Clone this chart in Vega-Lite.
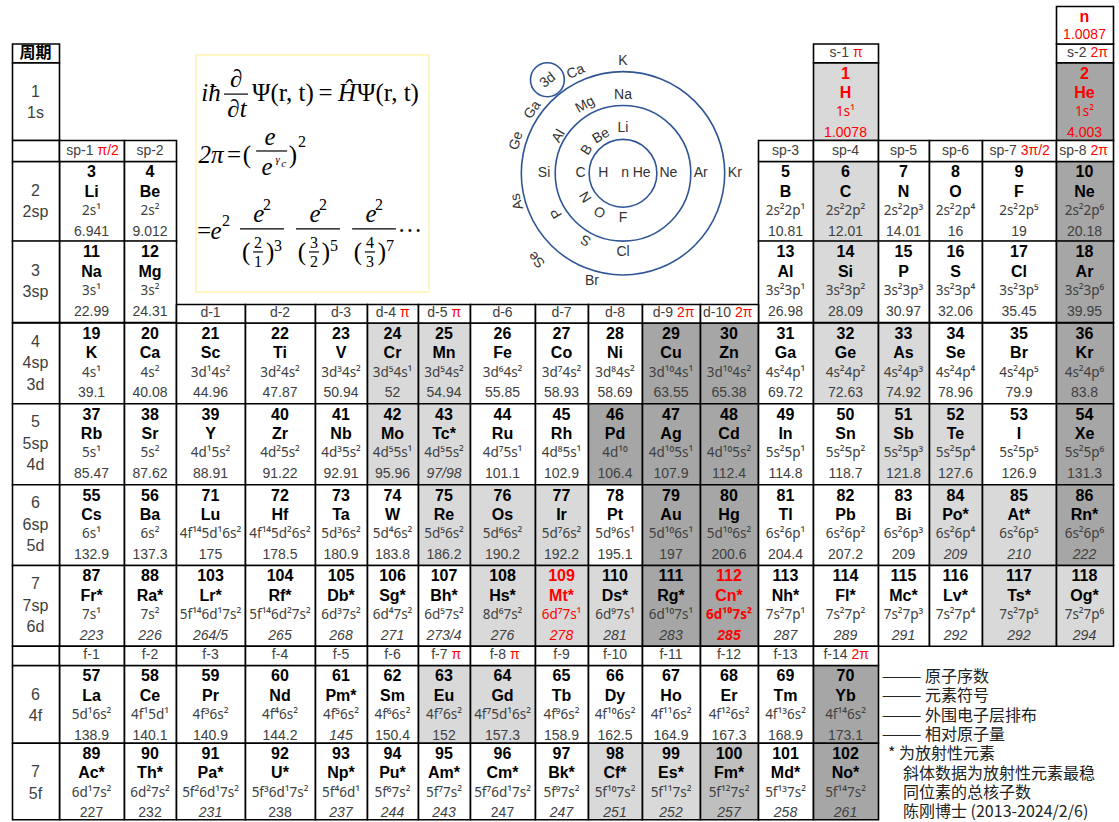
{
"$schema":"https://vega.github.io/schema/vega-lite/v6.json",
"width":1119,"height":822,"autosize":"none","padding":0,"background":"#ffffff",
"config":{"view":{"stroke":null},"text":{"font":"Liberation Sans"}},
"datasets":{
"elements":[
{"c":14,"r":2,"z":"1","s":"H","e":"1s¹","m":"1.0078","f":"L","red":true},
{"c":18,"r":2,"z":"2","s":"He","e":"1s²","m":"4.003","f":"D","red":true},
{"c":1,"r":4,"z":"3","s":"Li","e":"2s¹","m":"6.941","f":"W"},
{"c":2,"r":4,"z":"4","s":"Be","e":"2s²","m":"9.012","f":"W"},
{"c":13,"r":4,"z":"5","s":"B","e":"2s²2p¹","m":"10.81","f":"W"},
{"c":14,"r":4,"z":"6","s":"C","e":"2s²2p²","m":"12.01","f":"L"},
{"c":15,"r":4,"z":"7","s":"N","e":"2s²2p³","m":"14.01","f":"W"},
{"c":16,"r":4,"z":"8","s":"O","e":"2s²2p⁴","m":"16","f":"W"},
{"c":17,"r":4,"z":"9","s":"F","e":"2s²2p⁵","m":"19","f":"W"},
{"c":18,"r":4,"z":"10","s":"Ne","e":"2s²2p⁶","m":"20.18","f":"D"},
{"c":1,"r":5,"z":"11","s":"Na","e":"3s¹","m":"22.99","f":"W"},
{"c":2,"r":5,"z":"12","s":"Mg","e":"3s²","m":"24.31","f":"W"},
{"c":13,"r":5,"z":"13","s":"Al","e":"3s²3p¹","m":"26.98","f":"W"},
{"c":14,"r":5,"z":"14","s":"Si","e":"3s²3p²","m":"28.09","f":"L"},
{"c":15,"r":5,"z":"15","s":"P","e":"3s²3p³","m":"30.97","f":"W"},
{"c":16,"r":5,"z":"16","s":"S","e":"3s²3p⁴","m":"32.06","f":"W"},
{"c":17,"r":5,"z":"17","s":"Cl","e":"3s²3p⁵","m":"35.45","f":"W"},
{"c":18,"r":5,"z":"18","s":"Ar","e":"3s²3p⁶","m":"39.95","f":"D"},
{"c":1,"r":7,"z":"19","s":"K","e":"4s¹","m":"39.1","f":"W"},
{"c":2,"r":7,"z":"20","s":"Ca","e":"4s²","m":"40.08","f":"W"},
{"c":3,"r":7,"z":"21","s":"Sc","e":"3d¹4s²","m":"44.96","f":"W"},
{"c":4,"r":7,"z":"22","s":"Ti","e":"3d²4s²","m":"47.87","f":"W"},
{"c":5,"r":7,"z":"23","s":"V","e":"3d³4s²","m":"50.94","f":"W"},
{"c":6,"r":7,"z":"24","s":"Cr","e":"3d⁵4s¹","m":"52","f":"L"},
{"c":7,"r":7,"z":"25","s":"Mn","e":"3d⁵4s²","m":"54.94","f":"L"},
{"c":8,"r":7,"z":"26","s":"Fe","e":"3d⁶4s²","m":"55.85","f":"W"},
{"c":9,"r":7,"z":"27","s":"Co","e":"3d⁷4s²","m":"58.93","f":"W"},
{"c":10,"r":7,"z":"28","s":"Ni","e":"3d⁸4s²","m":"58.69","f":"W"},
{"c":11,"r":7,"z":"29","s":"Cu","e":"3d¹⁰4s¹","m":"63.55","f":"D"},
{"c":12,"r":7,"z":"30","s":"Zn","e":"3d¹⁰4s²","m":"65.38","f":"D"},
{"c":13,"r":7,"z":"31","s":"Ga","e":"4s²4p¹","m":"69.72","f":"W"},
{"c":14,"r":7,"z":"32","s":"Ge","e":"4s²4p²","m":"72.63","f":"L"},
{"c":15,"r":7,"z":"33","s":"As","e":"4s²4p³","m":"74.92","f":"L"},
{"c":16,"r":7,"z":"34","s":"Se","e":"4s²4p⁴","m":"78.96","f":"W"},
{"c":17,"r":7,"z":"35","s":"Br","e":"4s²4p⁵","m":"79.9","f":"W"},
{"c":18,"r":7,"z":"36","s":"Kr","e":"4s²4p⁶","m":"83.8","f":"D"},
{"c":1,"r":8,"z":"37","s":"Rb","e":"5s¹","m":"85.47","f":"W"},
{"c":2,"r":8,"z":"38","s":"Sr","e":"5s²","m":"87.62","f":"W"},
{"c":3,"r":8,"z":"39","s":"Y","e":"4d¹5s²","m":"88.91","f":"W"},
{"c":4,"r":8,"z":"40","s":"Zr","e":"4d²5s²","m":"91.22","f":"W"},
{"c":5,"r":8,"z":"41","s":"Nb","e":"4d³5s²","m":"92.91","f":"W"},
{"c":6,"r":8,"z":"42","s":"Mo","e":"4d⁵5s¹","m":"95.96","f":"L"},
{"c":7,"r":8,"z":"43","s":"Tc*","e":"4d⁵5s²","m":"97/98","f":"L","it":true},
{"c":8,"r":8,"z":"44","s":"Ru","e":"4d⁷5s¹","m":"101.1","f":"W"},
{"c":9,"r":8,"z":"45","s":"Rh","e":"4d⁸5s¹","m":"102.9","f":"W"},
{"c":10,"r":8,"z":"46","s":"Pd","e":"4d¹⁰","m":"106.4","f":"D"},
{"c":11,"r":8,"z":"47","s":"Ag","e":"4d¹⁰5s¹","m":"107.9","f":"D"},
{"c":12,"r":8,"z":"48","s":"Cd","e":"4d¹⁰5s²","m":"112.4","f":"D"},
{"c":13,"r":8,"z":"49","s":"In","e":"5s²5p¹","m":"114.8","f":"W"},
{"c":14,"r":8,"z":"50","s":"Sn","e":"5s²5p²","m":"118.7","f":"W"},
{"c":15,"r":8,"z":"51","s":"Sb","e":"5s²5p³","m":"121.8","f":"L"},
{"c":16,"r":8,"z":"52","s":"Te","e":"5s²5p⁴","m":"127.6","f":"L"},
{"c":17,"r":8,"z":"53","s":"I","e":"5s²5p⁵","m":"126.9","f":"W"},
{"c":18,"r":8,"z":"54","s":"Xe","e":"5s²5p⁶","m":"131.3","f":"D"},
{"c":1,"r":9,"z":"55","s":"Cs","e":"6s¹","m":"132.9","f":"W"},
{"c":2,"r":9,"z":"56","s":"Ba","e":"6s²","m":"137.3","f":"W"},
{"c":3,"r":9,"z":"71","s":"Lu","e":"4f¹⁴5d¹6s²","m":"175","f":"W"},
{"c":4,"r":9,"z":"72","s":"Hf","e":"4f¹⁴5d²6s²","m":"178.5","f":"W"},
{"c":5,"r":9,"z":"73","s":"Ta","e":"5d³6s²","m":"180.9","f":"W"},
{"c":6,"r":9,"z":"74","s":"W","e":"5d⁴6s²","m":"183.8","f":"W"},
{"c":7,"r":9,"z":"75","s":"Re","e":"5d⁵6s²","m":"186.2","f":"L"},
{"c":8,"r":9,"z":"76","s":"Os","e":"5d⁶6s²","m":"190.2","f":"L"},
{"c":9,"r":9,"z":"77","s":"Ir","e":"5d⁷6s²","m":"192.2","f":"L"},
{"c":10,"r":9,"z":"78","s":"Pt","e":"5d⁹6s¹","m":"195.1","f":"W"},
{"c":11,"r":9,"z":"79","s":"Au","e":"5d¹⁰6s¹","m":"197","f":"D"},
{"c":12,"r":9,"z":"80","s":"Hg","e":"5d¹⁰6s²","m":"200.6","f":"D"},
{"c":13,"r":9,"z":"81","s":"Tl","e":"6s²6p¹","m":"204.4","f":"W"},
{"c":14,"r":9,"z":"82","s":"Pb","e":"6s²6p²","m":"207.2","f":"W"},
{"c":15,"r":9,"z":"83","s":"Bi","e":"6s²6p³","m":"209","f":"W"},
{"c":16,"r":9,"z":"84","s":"Po*","e":"6s²6p⁴","m":"209","f":"L","it":true},
{"c":17,"r":9,"z":"85","s":"At*","e":"6s²6p⁵","m":"210","f":"L","it":true},
{"c":18,"r":9,"z":"86","s":"Rn*","e":"6s²6p⁶","m":"222","f":"D","it":true},
{"c":1,"r":10,"z":"87","s":"Fr*","e":"7s¹","m":"223","f":"W","it":true},
{"c":2,"r":10,"z":"88","s":"Ra*","e":"7s²","m":"226","f":"W","it":true},
{"c":3,"r":10,"z":"103","s":"Lr*","e":"5f¹⁴6d¹7s²","m":"264/5","f":"W","it":true},
{"c":4,"r":10,"z":"104","s":"Rf*","e":"5f¹⁴6d²7s²","m":"265","f":"W","it":true},
{"c":5,"r":10,"z":"105","s":"Db*","e":"6d³7s²","m":"268","f":"W","it":true},
{"c":6,"r":10,"z":"106","s":"Sg*","e":"6d⁴7s²","m":"271","f":"W","it":true},
{"c":7,"r":10,"z":"107","s":"Bh*","e":"6d⁵7s²","m":"273/4","f":"W","it":true},
{"c":8,"r":10,"z":"108","s":"Hs*","e":"8d⁶7s²","m":"276","f":"L","it":true},
{"c":9,"r":10,"z":"109","s":"Mt*","e":"6d⁷7s¹","m":"278","f":"L","it":true,"red":true},
{"c":10,"r":10,"z":"110","s":"Ds*","e":"6d⁹7s¹","m":"281","f":"L","it":true},
{"c":11,"r":10,"z":"111","s":"Rg*","e":"6d¹⁰7s¹","m":"283","f":"D","it":true},
{"c":12,"r":10,"z":"112","s":"Cn*","e":"6d¹⁰7s²","m":"285","f":"D","it":true,"red":true,"em":true},
{"c":13,"r":10,"z":"113","s":"Nh*","e":"7s²7p¹","m":"287","f":"W","it":true},
{"c":14,"r":10,"z":"114","s":"Fl*","e":"7s²7p²","m":"289","f":"W","it":true},
{"c":15,"r":10,"z":"115","s":"Mc*","e":"7s²7p³","m":"291","f":"W","it":true},
{"c":16,"r":10,"z":"116","s":"Lv*","e":"7s²7p⁴","m":"292","f":"W","it":true},
{"c":17,"r":10,"z":"117","s":"Ts*","e":"7s²7p⁵","m":"292","f":"L","it":true},
{"c":18,"r":10,"z":"118","s":"Og*","e":"7s²7p⁶","m":"294","f":"L","it":true},
{"c":1,"r":12,"z":"57","s":"La","e":"5d¹6s²","m":"138.9","f":"W"},
{"c":2,"r":12,"z":"58","s":"Ce","e":"4f¹5d¹","m":"140.1","f":"W"},
{"c":3,"r":12,"z":"59","s":"Pr","e":"4f³6s²","m":"140.9","f":"W"},
{"c":4,"r":12,"z":"60","s":"Nd","e":"4f⁴6s²","m":"144.2","f":"W"},
{"c":5,"r":12,"z":"61","s":"Pm*","e":"4f⁵6s²","m":"145","f":"W","it":true},
{"c":6,"r":12,"z":"62","s":"Sm","e":"4f⁶6s²","m":"150.4","f":"W"},
{"c":7,"r":12,"z":"63","s":"Eu","e":"4f⁷6s²","m":"152","f":"L"},
{"c":8,"r":12,"z":"64","s":"Gd","e":"4f⁷5d¹6s²","m":"157.3","f":"L"},
{"c":9,"r":12,"z":"65","s":"Tb","e":"4f⁹6s²","m":"158.9","f":"W"},
{"c":10,"r":12,"z":"66","s":"Dy","e":"4f¹⁰6s²","m":"162.5","f":"W"},
{"c":11,"r":12,"z":"67","s":"Ho","e":"4f¹¹6s²","m":"164.9","f":"W"},
{"c":12,"r":12,"z":"68","s":"Er","e":"4f¹²6s²","m":"167.3","f":"W"},
{"c":13,"r":12,"z":"69","s":"Tm","e":"4f¹³6s²","m":"168.9","f":"W"},
{"c":14,"r":12,"z":"70","s":"Yb","e":"4f¹⁴6s²","m":"173.1","f":"D"},
{"c":1,"r":13,"z":"89","s":"Ac*","e":"6d¹7s²","m":"227","f":"W"},
{"c":2,"r":13,"z":"90","s":"Th*","e":"6d²7s²","m":"232","f":"W"},
{"c":3,"r":13,"z":"91","s":"Pa*","e":"5f²6d¹7s²","m":"231","f":"W","it":true},
{"c":4,"r":13,"z":"92","s":"U*","e":"5f³6d¹7s²","m":"238","f":"W"},
{"c":5,"r":13,"z":"93","s":"Np*","e":"5f⁴6d¹","m":"237","f":"W","it":true},
{"c":6,"r":13,"z":"94","s":"Pu*","e":"5f⁶7s²","m":"244","f":"W","it":true},
{"c":7,"r":13,"z":"95","s":"Am*","e":"5f⁷7s²","m":"243","f":"W","it":true},
{"c":8,"r":13,"z":"96","s":"Cm*","e":"5f⁷6d¹7s²","m":"247","f":"W"},
{"c":9,"r":13,"z":"97","s":"Bk*","e":"5f⁹7s²","m":"247","f":"W","it":true},
{"c":10,"r":13,"z":"98","s":"Cf*","e":"5f¹⁰7s²","m":"251","f":"L","it":true},
{"c":11,"r":13,"z":"99","s":"Es*","e":"5f¹¹7s²","m":"252","f":"L","it":true},
{"c":12,"r":13,"z":"100","s":"Fm*","e":"5f¹²7s²","m":"257","f":"M","it":true},
{"c":13,"r":13,"z":"101","s":"Md*","e":"5f¹³7s²","m":"258","f":"W","it":true},
{"c":14,"r":13,"z":"102","s":"No*","e":"5f¹⁴7s²","m":"261","f":"D","it":true}
],
"periods":[
{"c":0,"r":2,"lab":["1","1s"]},{"c":0,"r":4,"lab":["2","2sp"]},{"c":0,"r":5,"lab":["3","3sp"]},
{"c":0,"r":7,"lab":["4","4sp","3d"]},{"c":0,"r":8,"lab":["5","5sp","4d"]},{"c":0,"r":9,"lab":["6","6sp","5d"]},
{"c":0,"r":10,"lab":["7","7sp","6d"]},{"c":0,"r":12,"lab":["6","4f"]},{"c":0,"r":13,"lab":["7","5f"]}
],
"headers":[
{"c":14,"r":1,"a":"s-1","b":"π"},{"c":18,"r":1,"a":"s-2","b":"2π"},
{"c":0,"r":3,"a":"","b":""},{"c":1,"r":3,"a":"sp-1","b":"π/2"},{"c":2,"r":3,"a":"sp-2","b":""},
{"c":13,"r":3,"a":"sp-3","b":""},{"c":14,"r":3,"a":"sp-4","b":""},{"c":15,"r":3,"a":"sp-5","b":""},
{"c":16,"r":3,"a":"sp-6","b":""},{"c":17,"r":3,"a":"sp-7","b":"3π/2"},{"c":18,"r":3,"a":"sp-8","b":"2π"},
{"c":3,"r":6,"a":"d-1","b":""},{"c":4,"r":6,"a":"d-2","b":""},{"c":5,"r":6,"a":"d-3","b":""},
{"c":6,"r":6,"a":"d-4","b":"π"},{"c":7,"r":6,"a":"d-5","b":"π"},{"c":8,"r":6,"a":"d-6","b":""},
{"c":9,"r":6,"a":"d-7","b":""},{"c":10,"r":6,"a":"d-8","b":""},{"c":11,"r":6,"a":"d-9","b":"2π"},
{"c":12,"r":6,"a":"d-10","b":"2π"},
{"c":0,"r":11,"a":"","b":""},{"c":1,"r":11,"a":"f-1","b":""},{"c":2,"r":11,"a":"f-2","b":""},
{"c":3,"r":11,"a":"f-3","b":""},{"c":4,"r":11,"a":"f-4","b":""},{"c":5,"r":11,"a":"f-5","b":""},
{"c":6,"r":11,"a":"f-6","b":""},{"c":7,"r":11,"a":"f-7","b":"π"},{"c":8,"r":11,"a":"f-8","b":"π"},
{"c":9,"r":11,"a":"f-9","b":""},{"c":10,"r":11,"a":"f-10","b":""},{"c":11,"r":11,"a":"f-11","b":""},
{"c":12,"r":11,"a":"f-12","b":""},{"c":13,"r":11,"a":"f-13","b":""},{"c":14,"r":11,"a":"f-14","b":"2π"}
],
"corner":[{"c":0,"r":1,"t":"周期"}],
"neutron":[{"c":18,"r":0,"s":"n","m":"1.0087"}],
"notes1":[{"lines":["——— 原子序数","——— 元素符号","——— 外围电子层排布","——— 相对原子量"]}],
"notes2":[{"lines":["* 为放射性元素"]}],
"notes3":[{"lines":["斜体数据为放射性元素最稳","同位素的总核子数","陈刚博士 (2013-2024/2/6)"]}],
"rings":[{"cx":0,"cy":0,"rad":1},{"cx":0,"cy":0,"rad":2},{"cx":0,"cy":0,"rad":3},{"cx":-2.23,"cy":2.76,"rad":0.5}],
"ringUpright":[
{"t":"K","th":0,"rr":3.32},{"t":"Na","th":0,"rr":2.31},{"t":"Li","th":0,"rr":1.33},
{"t":"Si","th":-90,"rr":2.33},{"t":"C","th":-90,"rr":1.25},{"t":"H","th":-90,"rr":0.58},
{"t":"n","th":90,"rr":0.06},{"t":"He","th":90,"rr":0.55},{"t":"Ne","th":90,"rr":1.34},
{"t":"Ar","th":90,"rr":2.29},{"t":"Kr","th":90,"rr":3.3},{"t":"F","th":180,"rr":1.33},
{"t":"Cl","th":180,"rr":2.31},{"t":"Br","th":-164,"rr":3.32}
],
"ringAlong":[
{"t":"Ca","th":-25,"rr":3.3},{"t":"3d","th":-39,"rr":3.53},{"t":"Ga","th":-55,"rr":3.26},
{"t":"Ge","th":-73,"rr":3.29},{"t":"As","th":-105,"rr":3.23},{"t":"Se","th":-135,"rr":3.59},
{"t":"Mg","th":-29,"rr":2.31},{"t":"Al","th":-60,"rr":2.19},{"t":"P","th":-121,"rr":2.28},
{"t":"S","th":-151,"rr":2.25},{"t":"Be","th":-30.5,"rr":1.28},{"t":"B","th":-57,"rr":1.27},
{"t":"N","th":-122,"rr":1.29},{"t":"O","th":-149,"rr":1.32}
],
"eqBox":[{}],
"eqItalic":[
{"t":"iħ","x":6.4,"y":16.0},{"t":"∂","x":17.2,"y":10.1},{"t":"∂t","x":17.6,"y":22.8},
{"t":"Ĥ","x":64.8,"y":16.0},{"t":"2π","x":6.4,"y":42.2},{"t":"e","x":31.8,"y":34.6},
{"t":"e","x":30.5,"y":47.3},{"t":"e","x":8.6,"y":74.3},{"t":"e","x":27.0,"y":67.1},
{"t":"e","x":51.1,"y":67.1},{"t":"e","x":75.1,"y":67.1}
],
"eqUpright":[
{"t":"Ψ(r, t)","x":37.3,"y":16.0},{"t":"=","x":55.6,"y":16.0},{"t":"Ψ(r, t)","x":82.4,"y":16.0},
{"t":"=","x":16.3,"y":42.2},{"t":"(","x":21.9,"y":42.2},{"t":")","x":41.6,"y":42.2},
{"t":"=","x":3.4,"y":74.3},
{"t":"(","x":21.5,"y":83.1},{"t":"(","x":45.5,"y":83.1},{"t":"(","x":69.5,"y":83.1},
{"t":")","x":31.8,"y":83.1},{"t":")","x":55.8,"y":83.1},{"t":")","x":79.8,"y":83.1},
{"t":"···","x":91.8,"y":74.3}
],
"eqSmall":[
{"t":"2","x":45.5,"y":36.7},{"t":"2","x":12.9,"y":70.0},
{"t":"2","x":30.5,"y":63.3},{"t":"2","x":54.5,"y":63.3},{"t":"2","x":78.5,"y":63.3},
{"t":"2","x":26.6,"y":79.3},{"t":"3","x":50.6,"y":79.3},{"t":"4","x":74.7,"y":79.3},
{"t":"1","x":26.6,"y":87.3},{"t":"2","x":50.6,"y":87.3},{"t":"3","x":74.7,"y":87.3},
{"t":"3","x":35.2,"y":80.6},{"t":"5","x":59.2,"y":80.6},{"t":"7","x":83.3,"y":80.6}
],
"eqTiny":[{"t":"γ","x":35.0,"y":44.3},{"t":"c","x":37.6,"y":46.0}],
"eqBars":[
{"x1":12.0,"x2":22.3,"y":16.5},{"x1":25.8,"x2":39.1,"y":40.5},
{"x1":18.9,"x2":37.8,"y":73.4},{"x1":42.9,"x2":61.8,"y":73.4},{"x1":67.0,"x2":85.8,"y":73.4},
{"x1":24.5,"x2":28.8,"y":83.1},{"x1":48.5,"x2":52.8,"y":83.1},{"x1":72.5,"x2":76.8,"y":83.1}
]
},
"layer":[
{"layer":[
{"data":{"name":"elements"},"transform":[{"filter":"datum.r != 5"}],
 "mark":{"type":"rect","stroke":"#000000","strokeWidth":1.6,"binSpacing":0},
 "encoding":{
  "x":{"field":"c","type":"quantitative","bin":{"step":1,"extent":[0,19]},"axis":null,"scale":{"domain":[0,1,2,3,4,5,6,7,8,9,10,11,12,13,14,15,16,17,18,19],"range":[12,59,124,176,245,315,367,418,470,535,588,642,700,758,813,878,929,982,1056,1113],"nice":false,"zero":false}},
  "y":{"field":"r","type":"quantitative","bin":{"step":1,"extent":[0,14]},"axis":null,"scale":{"domain":[0,1,2,3,4,5,6,7,8,9,10,11,12,13,14],"range":[6,43.5,62.3,140,161,241,304,322.5,403.3,484.3,565,645.7,665,742.7,819.3],"nice":false,"zero":false}},
  "fill":{"field":"f","type":"nominal","legend":null,"scale":{"domain":["W","L","M","D"],"range":["#ffffff","#d9d9d9","#bfbfbf","#a6a6a6"]}}}},
{"data":{"name":"elements"},"transform":[{"filter":"datum.r == 5"}],
 "mark":{"type":"rect","stroke":"#000000","strokeWidth":1.6,"binSpacing":0},
 "encoding":{
  "x":{"field":"c","type":"quantitative","bin":{"step":1,"extent":[0,19]},"axis":null},
  "y":{"datum":5,"type":"quantitative","axis":null},"y2":{"datum":7},
  "fill":{"field":"f","type":"nominal","legend":null}}},
{"data":{"name":"periods"},"transform":[{"filter":"datum.r != 5"}],
 "mark":{"type":"rect","fill":"#ffffff","stroke":"#000000","strokeWidth":1.6,"binSpacing":0},
 "encoding":{
  "x":{"field":"c","type":"quantitative","bin":{"step":1,"extent":[0,19]},"axis":null},
  "y":{"field":"r","type":"quantitative","bin":{"step":1,"extent":[0,14]},"axis":null}}},
{"data":{"name":"periods"},"transform":[{"filter":"datum.r == 5"}],
 "mark":{"type":"rect","fill":"#ffffff","stroke":"#000000","strokeWidth":1.6,"binSpacing":0},
 "encoding":{
  "x":{"field":"c","type":"quantitative","bin":{"step":1,"extent":[0,19]},"axis":null},
  "y":{"datum":5,"type":"quantitative","axis":null},"y2":{"datum":7}}},
{"data":{"name":"headers"},
 "mark":{"type":"rect","fill":"#ffffff","stroke":"#000000","strokeWidth":1.6,"binSpacing":0},
 "encoding":{
  "x":{"field":"c","type":"quantitative","bin":{"step":1,"extent":[0,19]},"axis":null},
  "y":{"field":"r","type":"quantitative","bin":{"step":1,"extent":[0,14]},"axis":null}}},
{"data":{"name":"corner"},
 "mark":{"type":"rect","fill":"#ffffff","stroke":"#000000","strokeWidth":1.6,"binSpacing":0},
 "encoding":{
  "x":{"field":"c","type":"quantitative","bin":{"step":1,"extent":[0,19]},"axis":null},
  "y":{"field":"r","type":"quantitative","bin":{"step":1,"extent":[0,14]},"axis":null}}},
{"data":{"name":"neutron"},
 "mark":{"type":"rect","fill":"#ffffff","stroke":"#000000","strokeWidth":1.6,"binSpacing":0},
 "encoding":{
  "x":{"field":"c","type":"quantitative","bin":{"step":1,"extent":[0,19]},"axis":null},
  "y":{"field":"r","type":"quantitative","bin":{"step":1,"extent":[0,14]},"axis":null}}},
{"data":{"name":"elements"},
 "mark":{"type":"text","fontSize":16,"fontWeight":"bold","baseline":"middle","dy":11.3},
 "encoding":{
  "x":{"field":"c","type":"quantitative","bin":{"step":1,"extent":[0,19]},"axis":null},
  "y":{"field":"r","type":"quantitative","bin":{"step":1,"extent":[0,14]},"bandPosition":0,"axis":null},
  "text":{"field":"z"},
  "color":{"condition":{"test":"datum.red","value":"#ff0000"},"value":"#000000"}}},
{"data":{"name":"elements"},
 "mark":{"type":"text","fontSize":16,"fontWeight":"bold","baseline":"middle","dy":30.5},
 "encoding":{
  "x":{"field":"c","type":"quantitative","bin":{"step":1,"extent":[0,19]},"axis":null},
  "y":{"field":"r","type":"quantitative","bin":{"step":1,"extent":[0,14]},"bandPosition":0,"axis":null},
  "text":{"field":"s"},
  "color":{"condition":{"test":"datum.red","value":"#ff0000"},"value":"#000000"}}},
{"data":{"name":"elements"},"transform":[{"filter":"!datum.em"}],
 "mark":{"type":"text","font":"Noto Sans","fontSize":13.5,"baseline":"middle","dy":50},
 "encoding":{
  "x":{"field":"c","type":"quantitative","bin":{"step":1,"extent":[0,19]},"axis":null},
  "y":{"field":"r","type":"quantitative","bin":{"step":1,"extent":[0,14]},"bandPosition":0,"axis":null},
  "text":{"field":"e"},
  "color":{"condition":{"test":"datum.red","value":"#ff0000"},"value":"#404040"}}},
{"data":{"name":"elements"},"transform":[{"filter":"datum.em"}],
 "mark":{"type":"text","font":"Noto Sans","fontSize":13.5,"fontWeight":"bold","baseline":"middle","dy":50,"fill":"#ff0000"},
 "encoding":{
  "x":{"field":"c","type":"quantitative","bin":{"step":1,"extent":[0,19]},"axis":null},
  "y":{"field":"r","type":"quantitative","bin":{"step":1,"extent":[0,14]},"bandPosition":0,"axis":null},
  "text":{"field":"e"}}},
{"data":{"name":"elements"},"transform":[{"filter":"!datum.it"}],
 "mark":{"type":"text","fontSize":14,"baseline":"middle","dy":70.5},
 "encoding":{
  "x":{"field":"c","type":"quantitative","bin":{"step":1,"extent":[0,19]},"axis":null},
  "y":{"field":"r","type":"quantitative","bin":{"step":1,"extent":[0,14]},"bandPosition":0,"axis":null},
  "text":{"field":"m"},
  "color":{"condition":{"test":"datum.red","value":"#ff0000"},"value":"#404040"}}},
{"data":{"name":"elements"},"transform":[{"filter":"datum.it && !datum.em"}],
 "mark":{"type":"text","fontSize":14,"fontStyle":"italic","baseline":"middle","dy":70.5},
 "encoding":{
  "x":{"field":"c","type":"quantitative","bin":{"step":1,"extent":[0,19]},"axis":null},
  "y":{"field":"r","type":"quantitative","bin":{"step":1,"extent":[0,14]},"bandPosition":0,"axis":null},
  "text":{"field":"m"},
  "color":{"condition":{"test":"datum.red","value":"#ff0000"},"value":"#404040"}}},
{"data":{"name":"elements"},"transform":[{"filter":"datum.em"}],
 "mark":{"type":"text","fontSize":14,"fontStyle":"italic","fontWeight":"bold","baseline":"middle","dy":70.5,"fill":"#ff0000"},
 "encoding":{
  "x":{"field":"c","type":"quantitative","bin":{"step":1,"extent":[0,19]},"axis":null},
  "y":{"field":"r","type":"quantitative","bin":{"step":1,"extent":[0,14]},"bandPosition":0,"axis":null},
  "text":{"field":"m"}}},
{"data":{"name":"periods"},"transform":[{"filter":"datum.lab.length == 2"}],
 "mark":{"type":"text","fontSize":16,"baseline":"middle","dy":29.5,"lineHeight":21.5,"fill":"#404040"},
 "encoding":{
  "x":{"field":"c","type":"quantitative","bin":{"step":1,"extent":[0,19]},"axis":null},
  "y":{"field":"r","type":"quantitative","bin":{"step":1,"extent":[0,14]},"bandPosition":0,"axis":null},
  "text":{"field":"lab"}}},
{"data":{"name":"periods"},"transform":[{"filter":"datum.lab.length == 3"}],
 "mark":{"type":"text","fontSize":16,"baseline":"middle","dy":19,"lineHeight":21.5,"fill":"#404040"},
 "encoding":{
  "x":{"field":"c","type":"quantitative","bin":{"step":1,"extent":[0,19]},"axis":null},
  "y":{"field":"r","type":"quantitative","bin":{"step":1,"extent":[0,14]},"bandPosition":0,"axis":null},
  "text":{"field":"lab"}}},
{"data":{"name":"headers"},"transform":[{"filter":"datum.b == ''"}],
 "mark":{"type":"text","fontSize":14,"baseline":"middle","fill":"#404040"},
 "encoding":{
  "x":{"field":"c","type":"quantitative","bin":{"step":1,"extent":[0,19]},"axis":null},
  "y":{"field":"r","type":"quantitative","bin":{"step":1,"extent":[0,14]},"bandPosition":0.5,"axis":null},
  "text":{"field":"a"}}},
{"data":{"name":"headers"},"transform":[{"filter":"datum.b == 'π'"}],
 "mark":{"type":"text","fontSize":14,"baseline":"middle","align":"right","dx":3.5,"fill":"#404040"},
 "encoding":{
  "x":{"field":"c","type":"quantitative","bin":{"step":1,"extent":[0,19]},"axis":null},
  "y":{"field":"r","type":"quantitative","bin":{"step":1,"extent":[0,14]},"bandPosition":0.5,"axis":null},
  "text":{"field":"a"}}},
{"data":{"name":"headers"},"transform":[{"filter":"datum.b == 'π'"}],
 "mark":{"type":"text","fontSize":14,"baseline":"middle","align":"left","dx":7.5,"fill":"#ff0000"},
 "encoding":{
  "x":{"field":"c","type":"quantitative","bin":{"step":1,"extent":[0,19]},"axis":null},
  "y":{"field":"r","type":"quantitative","bin":{"step":1,"extent":[0,14]},"bandPosition":0.5,"axis":null},
  "text":{"field":"b"}}},
{"data":{"name":"headers"},"transform":[{"filter":"datum.b == '2π' || datum.b == 'π/2'"}],
 "mark":{"type":"text","fontSize":14,"baseline":"middle","align":"right","dx":2,"fill":"#404040"},
 "encoding":{
  "x":{"field":"c","type":"quantitative","bin":{"step":1,"extent":[0,19]},"axis":null},
  "y":{"field":"r","type":"quantitative","bin":{"step":1,"extent":[0,14]},"bandPosition":0.5,"axis":null},
  "text":{"field":"a"}}},
{"data":{"name":"headers"},"transform":[{"filter":"datum.b == '2π' || datum.b == 'π/2'"}],
 "mark":{"type":"text","fontSize":14,"baseline":"middle","align":"left","dx":6,"fill":"#ff0000"},
 "encoding":{
  "x":{"field":"c","type":"quantitative","bin":{"step":1,"extent":[0,19]},"axis":null},
  "y":{"field":"r","type":"quantitative","bin":{"step":1,"extent":[0,14]},"bandPosition":0.5,"axis":null},
  "text":{"field":"b"}}},
{"data":{"name":"headers"},"transform":[{"filter":"datum.b == '3π/2'"}],
 "mark":{"type":"text","fontSize":14,"baseline":"middle","align":"right","dx":-2.3,"fill":"#404040"},
 "encoding":{
  "x":{"field":"c","type":"quantitative","bin":{"step":1,"extent":[0,19]},"axis":null},
  "y":{"field":"r","type":"quantitative","bin":{"step":1,"extent":[0,14]},"bandPosition":0.5,"axis":null},
  "text":{"field":"a"}}},
{"data":{"name":"headers"},"transform":[{"filter":"datum.b == '3π/2'"}],
 "mark":{"type":"text","fontSize":14,"baseline":"middle","align":"left","dx":1.7,"fill":"#ff0000"},
 "encoding":{
  "x":{"field":"c","type":"quantitative","bin":{"step":1,"extent":[0,19]},"axis":null},
  "y":{"field":"r","type":"quantitative","bin":{"step":1,"extent":[0,14]},"bandPosition":0.5,"axis":null},
  "text":{"field":"b"}}},
{"data":{"name":"corner"},
 "mark":{"type":"text","fontSize":16,"fontWeight":"bold","baseline":"middle","font":"Noto Sans CJK SC","fill":"#000000"},
 "encoding":{
  "x":{"field":"c","type":"quantitative","bin":{"step":1,"extent":[0,19]},"axis":null},
  "y":{"field":"r","type":"quantitative","bin":{"step":1,"extent":[0,14]},"bandPosition":0.5,"axis":null},
  "text":{"field":"t"}}},
{"data":{"name":"neutron"},
 "mark":{"type":"text","fontSize":16,"fontWeight":"bold","baseline":"middle","dy":11,"fill":"#ff0000"},
 "encoding":{
  "x":{"field":"c","type":"quantitative","bin":{"step":1,"extent":[0,19]},"axis":null},
  "y":{"field":"r","type":"quantitative","bin":{"step":1,"extent":[0,14]},"bandPosition":0,"axis":null},
  "text":{"field":"s"}}},
{"data":{"name":"neutron"},
 "mark":{"type":"text","fontSize":14,"baseline":"middle","dy":-9,"fill":"#ff0000"},
 "encoding":{
  "x":{"field":"c","type":"quantitative","bin":{"step":1,"extent":[0,19]},"axis":null},
  "y":{"field":"r","type":"quantitative","bin":{"step":1,"extent":[0,14]},"bandPosition":1,"axis":null},
  "text":{"field":"m"}}},
{"data":{"name":"notes1"},
 "mark":{"type":"text","fontSize":16,"baseline":"top","align":"left","dx":4,"dy":4,"lineHeight":19.4,"font":"Noto Sans CJK SC","fill":"#222222"},
 "encoding":{
  "x":{"datum":15,"type":"quantitative","axis":null},
  "y":{"datum":12,"type":"quantitative","axis":null},
  "text":{"field":"lines"}}},
{"data":{"name":"notes2"},
 "mark":{"type":"text","fontSize":16,"baseline":"top","align":"left","dx":10,"dy":3.5,"lineHeight":19.3,"font":"Noto Sans CJK SC","fill":"#222222"},
 "encoding":{
  "x":{"datum":15,"type":"quantitative","axis":null},
  "y":{"datum":13,"type":"quantitative","axis":null},
  "text":{"field":"lines"}}},
{"data":{"name":"notes3"},
 "mark":{"type":"text","fontSize":16,"baseline":"top","align":"left","dx":25,"dy":23,"lineHeight":19,"font":"Noto Sans CJK SC","fill":"#222222"},
 "encoding":{
  "x":{"datum":15,"type":"quantitative","axis":null},
  "y":{"datum":13,"type":"quantitative","axis":null},
  "text":{"field":"lines"}}}
]},
{"layer":[
{"data":{"name":"rings"},
 "mark":{"type":"arc","fill":"#ffffff","fillOpacity":0,"stroke":"#2f5597","strokeWidth":1.6,"theta":0,"theta2":6.2832},
 "encoding":{
  "x":{"field":"cx","type":"quantitative","axis":null,"scale":{"domain":[-4,4],"range":[487.4,758.6],"nice":false,"zero":false}},
  "y":{"field":"cy","type":"quantitative","axis":null,"scale":{"domain":[-4,4],"range":[308.9,37.7],"nice":false,"zero":false}},
  "radius":{"field":"rad","type":"quantitative","stack":null,"scale":{"type":"linear","domain":[0,4],"range":[0,135.6],"zero":true,"nice":false}}}},
{"data":{"name":"ringUpright"},
 "mark":{"type":"text","fontSize":14,"baseline":"middle","align":"center","fill":"#333333"},
 "encoding":{
  "x":{"datum":0,"type":"quantitative","axis":null},
  "y":{"datum":0,"type":"quantitative","axis":null},
  "theta":{"field":"th","type":"quantitative","stack":null,"scale":{"type":"linear","domain":[-180,180],"range":[-3.14159265,3.14159265],"nice":false,"zero":false}},
  "radius":{"field":"rr","type":"quantitative","stack":null},
  "text":{"field":"t"}}},
{"data":{"name":"ringAlong"},
 "mark":{"type":"text","fontSize":14,"baseline":"middle","align":"center","fill":"#333333"},
 "encoding":{
  "x":{"datum":0,"type":"quantitative","axis":null},
  "y":{"datum":0,"type":"quantitative","axis":null},
  "theta":{"field":"th","type":"quantitative","stack":null},
  "radius":{"field":"rr","type":"quantitative","stack":null},
  "angle":{"field":"th","type":"quantitative","scale":{"domain":[-180,180],"range":[-180,180]},"legend":null},
  "text":{"field":"t"}}}
]},
{"layer":[
{"data":{"name":"eqBox"},
 "mark":{"type":"rect","fill":"#ffffff","fillOpacity":0,"stroke":"#fff3b0","strokeWidth":1.5},
 "encoding":{
  "x":{"datum":0,"type":"quantitative","axis":null,"scale":{"domain":[0,100],"range":[196,429],"nice":false,"zero":false}},
  "x2":{"datum":100},
  "y":{"datum":0,"type":"quantitative","axis":null,"scale":{"domain":[0,100],"range":[55,292],"nice":false,"zero":false}},
  "y2":{"datum":100}}},
{"data":{"name":"eqItalic"},
 "mark":{"type":"text","font":"Liberation Serif","fontSize":25,"fontStyle":"italic","baseline":"middle","align":"center","fill":"#000000"},
 "encoding":{"x":{"field":"x","type":"quantitative","axis":null},"y":{"field":"y","type":"quantitative","axis":null},"text":{"field":"t"}}},
{"data":{"name":"eqUpright"},
 "mark":{"type":"text","font":"Liberation Serif","fontSize":25,"baseline":"middle","align":"center","fill":"#000000"},
 "encoding":{"x":{"field":"x","type":"quantitative","axis":null},"y":{"field":"y","type":"quantitative","axis":null},"text":{"field":"t"}}},
{"data":{"name":"eqSmall"},
 "mark":{"type":"text","font":"Liberation Serif","fontSize":16,"baseline":"middle","align":"center","fill":"#000000"},
 "encoding":{"x":{"field":"x","type":"quantitative","axis":null},"y":{"field":"y","type":"quantitative","axis":null},"text":{"field":"t"}}},
{"data":{"name":"eqTiny"},
 "mark":{"type":"text","font":"Liberation Serif","fontSize":11,"fontStyle":"italic","baseline":"middle","align":"center","fill":"#000000"},
 "encoding":{"x":{"field":"x","type":"quantitative","axis":null},"y":{"field":"y","type":"quantitative","axis":null},"text":{"field":"t"}}},
{"data":{"name":"eqBars"},
 "mark":{"type":"rule","stroke":"#000000","strokeWidth":1.2},
 "encoding":{"x":{"field":"x1","type":"quantitative","axis":null},"x2":{"field":"x2"},"y":{"field":"y","type":"quantitative","axis":null}}}
]}
],
"resolve":{"scale":{"x":"independent","y":"independent"}}
}
